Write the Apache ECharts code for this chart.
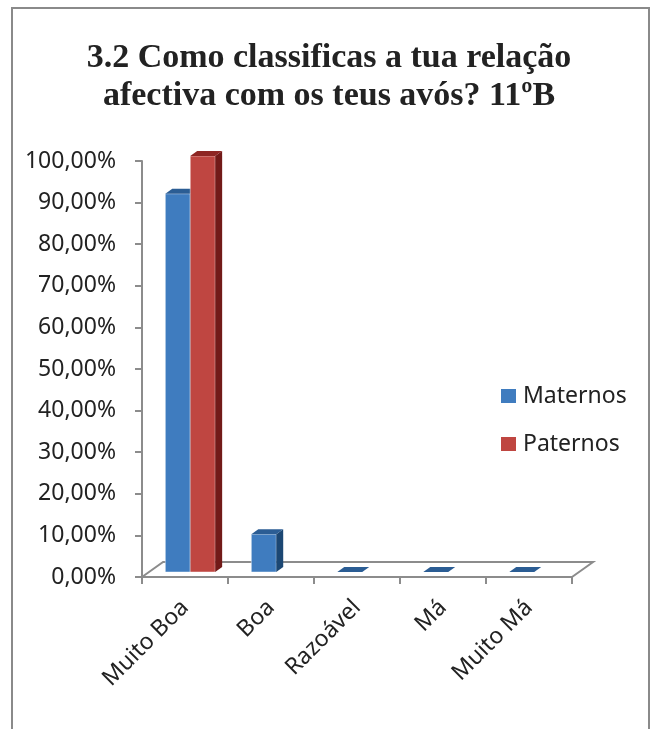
<!DOCTYPE html>
<html>
<head>
<meta charset="utf-8">
<script src="https://cdn.jsdelivr.net/npm/echarts@6/dist/echarts.min.js"></script>
<style>
html,body{margin:0;padding:0;background:#fff;}
#chart{width:658px;height:729px;}
</style>
</head>
<body>
<div id="chart"></div>
<script>
// ---- data ----
var titleText = '3.2 Como classificas a tua relação\nafectiva com os teus avós? 11ºB';
var categories = ['Muito Boa', 'Boa', 'Razoável', 'Má', 'Muito Má'];
var seriesNames = ['Maternos', 'Paternos'];
var maternos = [90.91, 9.09, 0, 0, 0];
var paternos = [100, null, null, null, null];
var yTicks = [0, 10, 20, 30, 40, 50, 60, 70, 80, 90, 100];

// ---- style ----
var palette = [
  {front: '#3F7CBF', top: '#2B5D94', side: '#1C4773'},
  {front: '#BF4641', top: '#8E2623', side: '#721A18'}
];
var axisGray = '#8C8C8C';
var textColor = '#222';

function fmtPct(v) { return v.toFixed(2).replace('.', ',') + '%'; }

function barRender(sIdx) {
  return function (params, api) {
    var v = api.value(1);
    if (v === null || v === undefined || isNaN(v)) return null;
    var ci = api.value(0);
    var base = api.coord([ci, 0]);
    var top = api.coord([ci, v]);
    var cw = api.size([1, 0])[0];
    var bw = cw * 0.29;
    var dx = cw * 0.081, dy = -cw * 0.058;   // offset from front plane to bar front
    var x0 = base[0] + (sIdx - 1) * bw - cw * 0.02 + dx;
    var x1 = x0 + bw;
    var yt = top[1] + dy, yb = base[1] + dy;
    var c = palette[sIdx];
    var children = [];
    if (yb - yt > 0.5) {
      children.push({type: 'rect', shape: {x: x0, y: yt, width: bw, height: yb - yt},
        style: {fill: c.front, stroke: 'rgba(255,255,255,0.45)', lineWidth: 1}});
      children.push({type: 'polygon', shape: {points: [[x1, yt], [x1 + dx, yt + dy], [x1 + dx, yb + dy], [x1, yb]]},
        style: {fill: c.side}});
    }
    children.push({type: 'polygon', shape: {points: [[x0, yt], [x1, yt], [x1 + dx, yt + dy], [x0 + dx, yt + dy]]},
      style: {fill: c.top}});
    return {type: 'group', children: children};
  };
}

function floorRender(params, api) {
  var n = categories.length;
  var fl = api.coord([0, 0]);
  var cw = api.size([1, 0])[0];
  var x0 = fl[0] - cw / 2, x1 = x0 + cw * n, y = fl[1];
  var ddx = cw * 0.245, ddy = -cw * 0.175;
  var st = {stroke: axisGray, lineWidth: 2, fill: null};
  return {type: 'group', children: [
    {type: 'polyline', shape: {points: [[x0, y], [x0 + ddx, y + ddy], [x1 + ddx, y + ddy], [x1, y]]}, style: st}
  ]};
}

var chart = echarts.init(document.getElementById('chart'), null, {renderer: 'canvas'});

var option = {
  backgroundColor: '#fff',
  animation: false,
  title: {
    text: titleText,
    left: 'center',
    top: 39,
    padding: 0,
    textStyle: {fontFamily: 'Liberation Serif', fontWeight: 'bold', fontSize: 34, lineHeight: 38, color: '#222'}
  },
  legend: {
    orient: 'vertical',
    left: 501,
    top: 384,
    padding: 0,
    itemWidth: 15,
    itemHeight: 14,
    itemGap: 24,
    icon: 'rect',
    data: seriesNames,
    textStyle: {fontFamily: 'Noto Sans', fontSize: 23, color: textColor, lineHeight: 24, padding: [0, 0, 0, 2]}
  },
  grid: {left: 142, top: 161, width: 430, height: 416},
  xAxis: {
    type: 'category',
    data: categories,
    boundaryGap: true,
    axisLine: {show: true, lineStyle: {color: axisGray, width: 2}},
    axisTick: {show: true, length: 7, lineStyle: {color: axisGray, width: 2}},
    axisLabel: {rotate: 45, margin: 27, fontFamily: 'Noto Sans', fontSize: 23, color: textColor},
    splitLine: {show: false}
  },
  yAxis: {
    type: 'value',
    min: yTicks[0],
    max: yTicks[yTicks.length - 1],
    interval: yTicks[1] - yTicks[0],
    axisLine: {show: true, lineStyle: {color: axisGray, width: 2}},
    axisTick: {show: true, length: 7, lineStyle: {color: axisGray, width: 2}},
    axisLabel: {margin: 26, fontFamily: 'Noto Sans', fontSize: 23, color: textColor, formatter: fmtPct},
    splitLine: {show: false}
  },
  graphic: [
    {type: 'rect', shape: {x: 12, y: 8, width: 637, height: 800}, style: {fill: null, stroke: '#8A8A8A', lineWidth: 2}, silent: true, z: 100}
  ],
  series: [
    {type: 'custom', name: '_floor', renderItem: floorRender, data: [[0, 0]], silent: true, z: 1},
    {type: 'custom', name: seriesNames[0], color: palette[0].front, itemStyle: {color: palette[0].front},
      renderItem: barRender(0), data: maternos.map(function (v, i) { return [i, v]; }), z: 2},
    {type: 'custom', name: seriesNames[1], color: palette[1].front, itemStyle: {color: palette[1].front},
      renderItem: barRender(1), data: paternos.map(function (v, i) { return [i, v]; }), z: 3}
  ]
};
chart.setOption(option);
</script>
</body>
</html>
